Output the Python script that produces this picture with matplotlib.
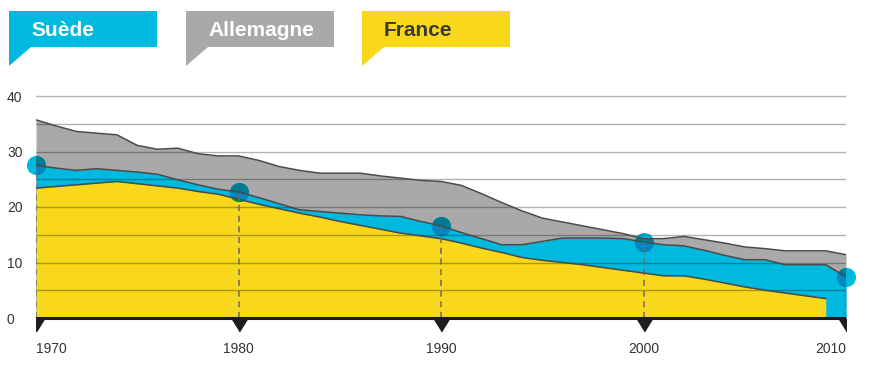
import numpy as np
import matplotlib
matplotlib.use('Agg')
import matplotlib.pyplot as plt
from matplotlib.patches import Polygon
from matplotlib.colors import to_rgb

plt.rcParams['font.family'] = ['Liberation Sans', 'DejaVu Sans']

# donnees
annees = list(range(1970, 2011))
allemagne = [35.7, 34.6, 33.6, 33.3, 33.0, 31.1, 30.4, 30.6, 29.6, 29.2,
             29.2, 28.4, 27.3, 26.6, 26.1, 26.1, 26.1, 25.6, 25.2, 24.8,
             24.6, 23.9, 22.4, 20.8, 19.3, 18.0, 17.3, 16.6, 15.9, 15.2,
             14.3, 14.3, 14.7, 14.1, 13.5, 12.8, 12.5, 12.1, 12.1, 12.1,
             11.4]
suede = [27.5, 27.0, 26.6, 26.9, 26.6, 26.3, 25.9, 24.9, 24.0, 23.2,
         22.7, 21.7, 20.6, 19.5, 19.2, 18.9, 18.6, 18.4, 18.3, 17.4,
         16.6, 15.4, 14.3, 13.2, 13.2, 13.8, 14.4, 14.4, 14.4, 14.3,
         13.7, 13.2, 13.0, 12.2, 11.3, 10.5, 10.5, 9.6, 9.6, 9.6,
         7.4]
annees_france = list(range(1970, 2010))
france = [23.4, 23.7, 24.0, 24.3, 24.6, 24.2, 23.8, 23.4, 22.8, 22.3,
          21.4, 20.5, 19.7, 18.9, 18.2, 17.4, 16.7, 16.0, 15.3, 14.8,
          14.3, 13.5, 12.6, 11.8, 10.9, 10.4, 10.0, 9.6, 9.1, 8.6,
          8.1, 7.6, 7.6, 7.0, 6.3, 5.6, 5.0, 4.5, 4.0, 3.5]
reperes = [1970, 1980, 1990, 2000, 2010]
graduations = [0, 10, 20, 30, 40]
pays = ['Suède', 'Allemagne', 'France']

CYAN = '#00b9de'
GRIS = '#a9a9a9'
JAUNE = '#f9d71b'
TRAIT = '#4a4a4a'


def multiplie(c1, c2):
    return tuple(np.array(to_rgb(c1)) * np.array(to_rgb(c2)))


fig = plt.figure(figsize=(8.7, 3.67), dpi=100)
ax = fig.add_axes([36 / 870, 1 - 334.65 / 367, 810 / 870, (334.65 - 90.45) / 367])
ax.set_xlim(1970, 2010)
ax.set_ylim(-3, 41)

z_gris = ax.fill_between(annees, allemagne, color=GRIS, lw=0, zorder=1)
z_cyan = ax.fill_between(annees, suede, color=CYAN, lw=0, zorder=2)
z_jaune = ax.fill_between(annees_france, france, color=JAUNE, lw=0, zorder=3)

# cercles (effet "produit" sur les aplats)
val_reperes = [suede[a - 1970] for a in reperes]
ax.scatter(reperes, val_reperes, s=190, color=CYAN, lw=0, zorder=4, clip_on=False)
for i, (zone, c) in enumerate([(z_gris, GRIS), (z_cyan, CYAN), (z_jaune, JAUNE)]):
    sc = ax.scatter(reperes, val_reperes, s=190, color=multiplie(CYAN, c), lw=0,
                    zorder=4.1 + i * 0.1)
    sc.set_clip_path(zone.get_paths()[0], ax.transData)

for y in range(5, 41, 5):
    ax.axhline(y, color='black', alpha=0.3, lw=1, zorder=5)

ax.plot(annees, allemagne, color=TRAIT, lw=1.1, zorder=6)
ax.plot(annees, suede, color=TRAIT, lw=1.1, zorder=6)
ax.plot(annees_france, france, color=TRAIT, lw=1.1, zorder=6)

ax.vlines(reperes, 0, val_reperes, colors='#6a6a6a', lw=1.1,
          linestyles=(0, (4, 3)), zorder=6)

ax.axhline(0, color='#1a1a1a', lw=2.2, zorder=7)
tri = [(-1, 0.8), (1, 0.8), (0, -0.8)]
ax.plot(reperes, [-1.35] * len(reperes), ls='none', marker=tri, ms=11.5,
        color='#1e1e1e', zorder=7)

for s in ax.spines.values():
    s.set_visible(False)
ax.set_yticks(graduations)
ax.set_yticklabels([str(g) for g in graduations])
ax.tick_params(axis='y', length=0, pad=20.9, labelsize=10, labelcolor='#333333')
for lbl in ax.get_yticklabels():
    lbl.set_horizontalalignment('left')
ax.set_xticks(reperes)
ax.set_xticklabels([str(a) for a in reperes])
ax.tick_params(axis='x', length=0, pad=5, labelsize=10, labelcolor='#333333')
xl = ax.get_xticklabels()
xl[0].set_horizontalalignment('left')
xl[-1].set_horizontalalignment('right')

# legende en drapeaux
leg = fig.add_axes([0, 0, 1, 1])
leg.set_xlim(0, 870)
leg.set_ylim(367, 0)
leg.axis('off')
leg.patch.set_alpha(0)
for x0, nom, fond, txt in zip([9, 186, 362], pays, [CYAN, GRIS, JAUNE],
                              ['white', 'white', '#3a3a3a']):
    leg.add_patch(Polygon([(x0, 11), (x0 + 148, 11), (x0 + 148, 47),
                           (x0 + 22, 47), (x0, 66)], closed=True,
                          facecolor=fond, edgecolor='none'))
    leg.text(x0 + 22, 36.5, nom, color=txt, fontsize=15, fontweight='bold',
             ha='left', va='baseline')

fig.savefig('out.png', dpi=100)
